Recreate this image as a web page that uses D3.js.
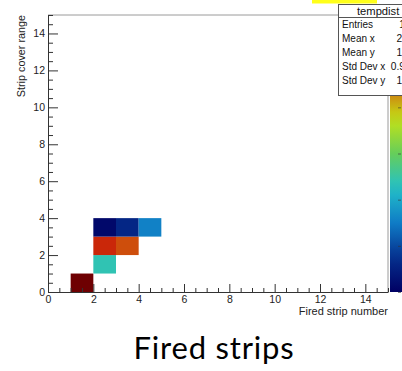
<!DOCTYPE html>
<html>
<head>
<meta charset="utf-8">
<script src="https://cdn.jsdelivr.net/npm/d3@7"></script>
<style>
  body { margin: 0; background: #fff; overflow: hidden; }
</style>
</head>
<body>
<svg id="chart" width="402" height="371"></svg>
<script>
// Filled cells of the 2D histogram: lower bin edges and bin contents
const cellX = [1, 2, 2, 3, 2, 3, 4];
const cellY = [0, 1, 2, 2, 3, 3, 3];
const cellCount = [300, 120, 252, 234, 6, 30, 78];

// Axis ranges and tick labels
const xDomain = [0, 15];
const yDomain = [0, 15];
const xTickLabels = [0, 2, 4, 6, 8, 10, 12, 14];
const yTickLabels = [0, 2, 4, 6, 8, 10, 12, 14];
const minorStep = 0.5;

// Rainbow colour palette (stops and RGB)
const palStops = [0, 0.125, 0.25, 0.375, 0.5, 0.625, 0.75, 0.875, 1];
const palR = [0, 5, 15, 35, 102, 196, 208, 199, 110];
const palG = [0, 48, 124, 192, 206, 226, 97, 16, 0];
const palB = [99, 142, 198, 201, 90, 22, 13, 8, 2];

const histName = "tempdist";
const xTitle = "Fired strip number";
const yTitle = "Strip cover range";
const caption = "Fired strips";

const rootFont = '"Liberation Sans", Arial, Helvetica, sans-serif';
const svg = d3.select("#chart");
const frame = { left: 48, right: 388, top: 15, bottom: 292 };

const x = d3.scaleLinear().domain(xDomain).range([frame.left, frame.right]);
const y = d3.scaleLinear().domain(yDomain).range([frame.bottom, frame.top]);

const zMax = d3.max(cellCount);
const palette = d3.scaleLinear()
  .domain(palStops)
  .range(palStops.map((s, i) => d3.rgb(palR[i], palG[i], palB[i])))
  .interpolate(d3.interpolateRgb);
const z = d3.scaleLinear().domain([0, zMax]).range([0, 1]);

const cells = cellCount.map((c, i) => ({ x: cellX[i], y: cellY[i], c }));

// histogram cells
svg.append("g").selectAll("rect").data(cells).join("rect")
  .attr("x", d => x(d.x))
  .attr("y", d => y(d.y + 1))
  .attr("width", d => x(d.x + 1) - x(d.x))
  .attr("height", d => y(d.y) - y(d.y + 1))
  .attr("fill", d => palette(z(d.c)));

// frame (top and right edges)
svg.append("path")
  .attr("d", `M${frame.left},${frame.top}H${frame.right}V${frame.bottom}`)
  .attr("fill", "none").attr("stroke", "#9a9a9a").attr("stroke-width", 1);

// minor tick positions
const xMinor = d3.range(xDomain[0], xDomain[1] + 1e-9, minorStep).filter(v => !xTickLabels.includes(v));
const yMinor = d3.range(yDomain[0], yDomain[1] + 1e-9, minorStep).filter(v => !yTickLabels.includes(v));

// x axis
const gx = svg.append("g").attr("transform", `translate(0,${frame.bottom})`);
gx.call(d3.axisBottom(x).tickValues(xTickLabels).tickSize(-8).tickSizeOuter(0).tickPadding(4).tickFormat(d3.format("d")));
gx.append("g").call(d3.axisBottom(x).tickValues(xMinor).tickSize(-4).tickSizeOuter(0).tickFormat(""))
  .select(".domain").remove();

// y axis
const gy = svg.append("g").attr("transform", `translate(${frame.left},0)`);
gy.call(d3.axisLeft(y).tickValues(yTickLabels).tickSize(-10).tickSizeOuter(0).tickPadding(3).tickFormat(d3.format("d")));
gy.append("g").call(d3.axisLeft(y).tickValues(yMinor).tickSize(-5).tickSizeOuter(0).tickFormat(""))
  .select(".domain").remove();

svg.selectAll(".tick line, .domain").attr("stroke", "#333");
svg.selectAll(".tick text").attr("font-size", 10.5).attr("fill", "#222")
  .attr("font-family", rootFont);

// axis titles
svg.append("text").attr("x", frame.right).attr("y", 314.5)
  .attr("text-anchor", "end").attr("font-family", rootFont).attr("font-size", 11).attr("fill", "#222").text(xTitle);
svg.append("text")
  .attr("transform", `translate(24.5,${frame.top}) rotate(-90)`)
  .attr("text-anchor", "end").attr("font-family", rootFont).attr("font-size", 10.8).attr("fill", "#222").text(yTitle);

// colour palette bar
const defs = svg.append("defs");
const grad = defs.append("linearGradient").attr("id", "pal")
  .attr("x1", 0).attr("y1", 1).attr("x2", 0).attr("y2", 0);
grad.selectAll("stop").data(d3.range(0, 1.0001, 0.05)).join("stop")
  .attr("offset", d => d).attr("stop-color", d => palette(d));
const zAxisScale = d3.scaleLinear().domain([0, zMax]).range([frame.bottom, frame.top]);
svg.append("rect").attr("x", 390).attr("y", frame.top)
  .attr("width", 20).attr("height", frame.bottom - frame.top)
  .attr("fill", "url(#pal)");
svg.append("g").attr("transform", "translate(401,0)")
  .call(d3.axisRight(zAxisScale).ticks(6).tickSize(-3).tickFormat(""))
  .call(g => g.select(".domain").remove())
  .selectAll("line").attr("stroke", "#333").attr("stroke-opacity", 0.6);

// statistics box, computed from bin centres
const n = d3.sum(cellCount);
const mx = d3.sum(cells, d => d.c * (d.x + 0.5)) / n;
const my = d3.sum(cells, d => d.c * (d.y + 0.5)) / n;
const sx = Math.sqrt(d3.sum(cells, d => d.c * (d.x + 0.5) ** 2) / n - mx * mx);
const sy = Math.sqrt(d3.sum(cells, d => d.c * (d.y + 0.5) ** 2) / n - my * my);
const g4 = v => String(+v.toPrecision(4));
const statLabels = ["Entries", "Mean x", "Mean y", "Std Dev x", "Std Dev y"];
const statValues = [String(n), g4(mx), g4(my), g4(sx), g4(sy)];

const box = svg.append("g").attr("font-family", rootFont);
box.append("rect").attr("x", 338.5).attr("y", 4.5).attr("width", 90).attr("height", 91)
  .attr("fill", "#fff").attr("stroke", "#555");
box.append("line").attr("x1", 338.5).attr("x2", 430).attr("y1", 17.5).attr("y2", 17.5).attr("stroke", "#555");
box.append("text").attr("x", 357).attr("y", 14.5).attr("font-size", 11.2).attr("fill", "#111").text(histName);
const rowY = d3.scaleLinear().domain([0, 4]).range([28, 83.5]);
box.selectAll("text.lab").data(statLabels).join("text").attr("class", "lab")
  .attr("x", 342).attr("y", (d, i) => rowY(i))
  .attr("font-size", 10).attr("fill", "#111").text(d => d);
box.selectAll("text.val").data(statValues).join("text").attr("class", "val")
  .attr("x", 422).attr("y", (d, i) => rowY(i)).attr("text-anchor", "end")
  .attr("font-size", 10.2).attr("fill", "#111").text(d => d);

// highlight strip above the box
svg.append("rect").attr("x", 312).attr("y", 0).attr("width", 65).attr("height", 3.5).attr("fill", "#ffff1a");

// caption
svg.append("text").attr("x", 214).attr("y", 359).attr("text-anchor", "middle")
  .attr("font-family", "Lato, 'Open Sans', sans-serif").attr("font-size", 31)
  .attr("letter-spacing", 0.8).attr("fill", "#000")
  .text(caption);
</script>
</body>
</html>
